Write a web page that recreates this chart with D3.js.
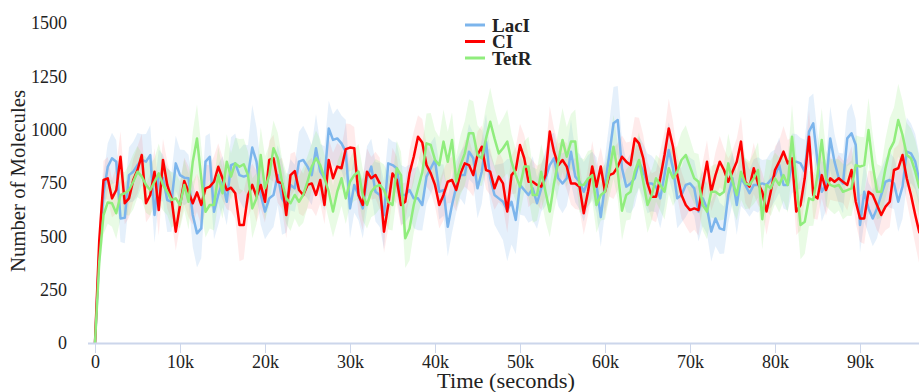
<!DOCTYPE html>
<html>
<head>
<meta charset="utf-8">
<script src="https://cdn.jsdelivr.net/npm/d3@7"></script>
<style>
  body { margin: 0; background: #fff; }
  svg { display: block; font-family: "Liberation Serif", "Times New Roman", serif; }
  svg text { font-family: "Liberation Serif", "Times New Roman", serif; }
</style>
</head>
<body>
<svg id="chart" width="919" height="392"></svg>
<script>
// sampled every 500 s
const times = d3.range(0, 97001, 500);

const lacI = [0, 420, 700, 826, 866, 850, 584, 587, 787, 803,
  834, 858, 850, 881, 600, 787, 773, 670, 662, 842,
  787, 775, 772, 600, 514, 537, 850, 873, 615, 694,
  756, 662, 834, 842, 787, 780, 787, 916, 850, 694,
  616, 678, 694, 787, 678, 647, 741, 725, 850, 858,
  827, 787, 913, 803, 772, 1006, 952, 959, 936, 897,
  631, 741, 694, 631, 772, 827, 709, 694, 600, 842,
  834, 819, 694, 694, 717, 678, 678, 647, 780, 819,
  858, 709, 717, 545, 647, 733, 787, 787, 897, 866,
  725, 803, 944, 772, 694, 678, 662, 623, 662, 577,
  741, 717, 694, 725, 655, 725, 772, 834, 866, 772,
  748, 772, 897, 780, 756, 709, 760, 787, 741, 590,
  741, 881, 1030, 1045, 819, 733, 748, 772, 850, 803,
  748, 748, 733, 678, 787, 905, 819, 678, 694, 741,
  748, 725, 616, 678, 631, 522, 584, 537, 530, 694,
  772, 647, 772, 741, 702, 741, 741, 748, 741, 764,
  787, 834, 741, 741, 842, 850, 842, 803, 991, 1030,
  850, 709, 741, 959, 850, 772, 748, 959, 983, 928,
  553, 709, 631, 584, 631, 694, 756, 764, 748, 662,
  733, 897, 889, 850, 756];

const ci = [0, 480, 764, 772, 678, 717, 873, 655, 678, 764,
  811, 881, 655, 694, 803, 623, 858, 741, 678, 522,
  647, 759, 709, 655, 706, 647, 725, 733, 756, 826,
  772, 717, 728, 702, 553, 553, 694, 741, 686, 741,
  662, 858, 866, 756, 748, 600, 787, 806, 717, 694,
  741, 748, 694, 764, 647, 858, 772, 827, 819, 909,
  916, 913, 694, 647, 803, 772, 787, 748, 522, 647,
  795, 764, 647, 662, 795, 873, 967, 940, 834, 795,
  741, 647, 694, 756, 764, 717, 795, 842, 834, 787,
  881, 920, 811, 803, 725, 780, 748, 616, 787, 811,
  928, 866, 756, 756, 741, 733, 787, 991, 897, 834,
  858, 827, 748, 748, 733, 608, 709, 827, 733, 827,
  709, 787, 795, 827, 873, 850, 834, 959, 936, 866,
  748, 686, 686, 772, 881, 1006, 920, 787, 694, 647,
  623, 631, 623, 741, 850, 709, 787, 850, 811, 756,
  803, 850, 944, 756, 733, 819, 748, 709, 616, 709,
  811, 850, 897, 842, 866, 616, 647, 772, 967, 694,
  678, 787, 717, 772, 756, 772, 756, 741, 811, 662,
  584, 584, 709, 694, 647, 600, 639, 662, 811, 819,
  881, 772, 694, 600, 515];

const tetR = [0, 380, 600, 659, 655, 608, 694, 702, 717, 756,
  803, 780, 741, 717, 756, 795, 741, 709, 670, 678,
  647, 741, 662, 850, 959, 772, 615, 647, 647, 787,
  702, 850, 780, 842, 826, 838, 787, 631, 678, 881,
  725, 787, 913, 866, 756, 678, 655, 694, 662, 694,
  756, 827, 866, 834, 772, 709, 616, 709, 772, 678,
  756, 787, 803, 694, 647, 709, 733, 741, 717, 662,
  647, 819, 787, 491, 537, 647, 725, 800, 936, 928,
  858, 834, 944, 850, 952, 756, 834, 889, 983, 983,
  881, 866, 959, 1037, 959, 889, 913, 944, 850, 787,
  733, 827, 827, 694, 694, 803, 709, 616, 748, 850,
  952, 873, 944, 944, 741, 741, 770, 787, 647, 694,
  709, 803, 920, 803, 620, 694, 709, 803, 858, 756,
  647, 694, 772, 741, 709, 819, 772, 803, 858, 881,
  827, 772, 756, 647, 616, 709, 709, 694, 709, 842,
  756, 694, 803, 748, 741, 772, 811, 580, 741, 725,
  772, 741, 787, 741, 967, 756, 553, 568, 678, 670,
  787, 952, 772, 741, 733, 741, 709, 717, 725, 834,
  827, 834, 998, 834, 709, 709, 819, 905, 944, 1045,
  975, 881, 866, 803, 725];

// half-width of the shaded band around each series
const lacISd = [0, 60, 90, 110, 120, 100, 110, 120, 130, 140,
  150, 120, 130, 140, 130, 120, 110, 150, 140, 130,
  120, 130, 110, 150, 160, 140, 120, 110, 130, 140,
  120, 110, 130, 140, 120, 150, 140, 200, 160, 140,
  130, 160, 150, 140, 170, 130, 120, 110, 140, 160,
  150, 140, 160, 130, 150, 130, 120, 140, 130, 150,
  140, 130, 120, 140, 150, 130, 140, 150, 160, 120,
  110, 120, 140, 130, 120, 140, 150, 120, 130, 120,
  110, 130, 120, 140, 130, 120, 110, 140, 130, 120,
  140, 150, 130, 120, 140, 160, 180, 240, 200, 160,
  140, 120, 130, 150, 120, 110, 130, 140, 120, 130,
  140, 130, 150, 120, 130, 140, 120, 110, 130, 140,
  130, 150, 170, 160, 130, 120, 140, 130, 120, 130,
  140, 130, 120, 140, 150, 130, 120, 140, 130, 150,
  120, 130, 140, 130, 120, 140, 130, 120, 110, 130,
  120, 140, 130, 120, 110, 120, 130, 110, 120, 130,
  120, 130, 110, 120, 140, 130, 120, 150, 160, 140,
  130, 140, 120, 150, 130, 120, 140, 130, 140, 120,
  130, 140, 120, 130, 140, 120, 110, 130, 120, 140,
  150, 160, 140, 130, 120];

const ciSd = [0, 60, 90, 100, 90, 110, 120, 100, 90, 100,
  110, 100, 90, 100, 110, 120, 100, 110, 100, 90,
  100, 110, 120, 100, 90, 100, 110, 100, 120, 110,
  100, 90, 110, 120, 170, 160, 110, 100, 120, 110,
  100, 90, 110, 100, 120, 110, 100, 90, 110, 100,
  110, 120, 100, 110, 90, 100, 120, 110, 100, 120,
  110, 100, 90, 120, 110, 100, 110, 120, 100, 110,
  120, 110, 100, 90, 110, 120, 100, 110, 100, 90,
  100, 110, 120, 100, 110, 100, 90, 110, 120, 100,
  110, 100, 90, 110, 100, 120, 110, 100, 90, 110,
  100, 110, 120, 100, 90, 110, 100, 120, 110, 100,
  90, 110, 100, 120, 110, 100, 110, 120, 100, 90,
  110, 100, 120, 110, 100, 90, 110, 100, 120, 110,
  100, 110, 120, 130, 110, 140, 120, 100, 110, 100,
  110, 100, 120, 110, 100, 90, 110, 120, 100, 110,
  100, 110, 120, 100, 110, 120, 100, 90, 110, 100,
  110, 100, 120, 110, 100, 110, 120, 100, 130, 110,
  100, 110, 120, 100, 90, 110, 100, 120, 110, 100,
  110, 120, 100, 110, 120, 100, 110, 120, 100, 110,
  120, 110, 130, 140, 150];

const tetRSd = [0, 60, 90, 100, 110, 120, 110, 100, 120, 130,
  120, 110, 130, 120, 110, 140, 120, 110, 130, 120,
  110, 120, 130, 140, 160, 150, 120, 110, 120, 130,
  120, 130, 110, 120, 130, 120, 110, 140, 120, 130,
  150, 140, 130, 120, 110, 120, 130, 110, 120, 130,
  120, 110, 130, 120, 110, 130, 120, 140, 130, 120,
  110, 120, 130, 120, 110, 120, 130, 110, 120, 130,
  120, 130, 110, 140, 150, 130, 120, 130, 140, 150,
  140, 130, 150, 140, 130, 120, 140, 150, 160, 150,
  140, 130, 150, 160, 140, 130, 140, 150, 130, 120,
  130, 120, 140, 130, 120, 130, 140, 120, 130, 140,
  150, 140, 130, 150, 130, 120, 130, 120, 130, 120,
  130, 120, 150, 130, 140, 120, 130, 120, 130, 120,
  130, 120, 110, 120, 130, 120, 130, 120, 130, 140,
  130, 120, 130, 120, 130, 120, 130, 120, 130, 140,
  130, 120, 130, 120, 110, 120, 130, 140, 120, 130,
  120, 130, 120, 130, 150, 130, 160, 150, 130, 120,
  130, 150, 130, 120, 130, 120, 130, 120, 130, 140,
  140, 130, 150, 140, 130, 120, 140, 150, 160, 170,
  160, 150, 140, 150, 140];

const yTicks = [0, 250, 500, 750, 1000, 1250, 1500];
const xTicks = [0, 10000, 20000, 30000, 40000, 50000, 60000, 70000, 80000, 90000];

const series = [
  { name: 'LacI', values: lacI, sd: lacISd, color: '#7cb5ec', bandOpacity: 0.2 },
  { name: 'CI', values: ci, sd: ciSd, color: '#ff0000', bandOpacity: 0.08 },
  { name: 'TetR', values: tetR, sd: tetRSd, color: '#90ed7d', bandOpacity: 0.2 }
];

const serif = '"Liberation Serif", "Times New Roman", serif';
const width = 919;
const plotLeft = 88;
const plotTop = 0;
const plotBottom = 343;

const x = d3.scaleLinear()
  .domain([0, 97000])
  .range([95, 919.5]);

const y = d3.scaleLinear()
  .domain([0, 1500])
  .range([343, 23]);

const svg = d3.select('#chart');

svg.append('defs').append('clipPath')
  .attr('id', 'plot-clip')
  .append('rect')
  .attr('x', plotLeft)
  .attr('y', plotTop)
  .attr('width', width - plotLeft)
  .attr('height', plotBottom - plotTop);

const plot = svg.append('g').attr('clip-path', 'url(#plot-clip)');

const band = (s) => d3.area()
  .x((d, i) => x(times[i]))
  .y0((d, i) => y(d - s.sd[i]))
  .y1((d, i) => y(d + s.sd[i]));

const line = d3.line()
  .x((d, i) => x(times[i]))
  .y((d) => y(d));

series.forEach((s) => {
  plot.append('path')
    .datum(s.values)
    .attr('d', band(s))
    .attr('fill', s.color)
    .attr('fill-opacity', s.bandOpacity)
    .attr('stroke', 'none');
});

series.forEach((s) => {
  plot.append('path')
    .datum(s.values)
    .attr('d', line)
    .attr('fill', 'none')
    .attr('stroke', s.color)
    .attr('stroke-width', 2.5)
    .attr('stroke-linejoin', 'round');
});

// x axis
const xAxis = svg.append('g')
  .attr('transform', `translate(0,${plotBottom})`)
  .call(d3.axisBottom(x)
    .tickValues(xTicks)
    .tickFormat((d) => d === 0 ? '0' : `${d / 1000}k`)
    .tickSize(10)
    .tickPadding(2))
  .attr('font-family', serif)
  .attr('font-size', 18);
xAxis.select('.domain').remove();
xAxis.selectAll('line').attr('stroke', '#ccd6eb');
xAxis.selectAll('text').attr('fill', '#222');

svg.append('line')
  .attr('x1', plotLeft)
  .attr('x2', width)
  .attr('y1', plotBottom + 0.5)
  .attr('y2', plotBottom + 0.5)
  .attr('stroke', '#ccd6eb')
  .attr('stroke-width', 2);

// y axis (labels only)
const yAxis = svg.append('g')
  .attr('transform', 'translate(67,0)')
  .call(d3.axisLeft(y)
    .tickValues(yTicks)
    .tickFormat(d3.format('d'))
    .tickSize(0)
    .tickPadding(0))
  .attr('font-family', serif)
  .attr('font-size', 18);
yAxis.select('.domain').remove();
yAxis.selectAll('text').attr('fill', '#222');

svg.append('text')
  .attr('transform', 'translate(25,181) rotate(-90)')
  .attr('text-anchor', 'middle')
  .attr('font-size', 20)
  .attr('fill', '#222')
  .attr('textLength', 182)
  .attr('lengthAdjust', 'spacingAndGlyphs')
  .text('Number of Molecules');

svg.append('text')
  .attr('x', 506)
  .attr('y', 388)
  .attr('text-anchor', 'middle')
  .attr('font-size', 20)
  .attr('fill', '#222')
  .attr('textLength', 138)
  .attr('lengthAdjust', 'spacingAndGlyphs')
  .text('Time (seconds)');

// legend
const legend = svg.append('g').attr('transform', 'translate(465,25)');
series.forEach((s, i) => {
  const row = legend.append('g').attr('transform', `translate(0,${i * 16.5})`);
  row.append('line')
    .attr('x1', 0)
    .attr('x2', 20)
    .attr('stroke', s.color)
    .attr('stroke-width', 3);
  row.append('text')
    .attr('x', 27)
    .attr('y', 6.5)
    .attr('font-size', 19)
    .attr('font-weight', 'bold')
    .attr('fill', '#222')
    .text(s.name);
});
</script>
</body>
</html>
